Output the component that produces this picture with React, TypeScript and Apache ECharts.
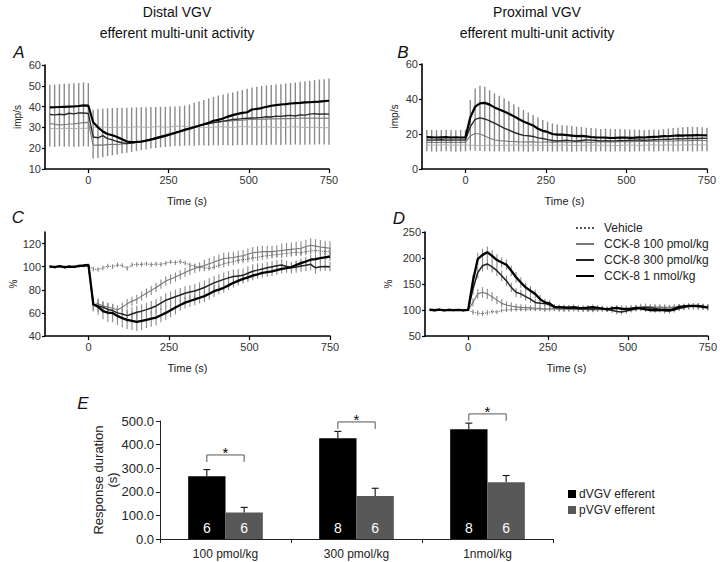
import React, { useEffect, useRef } from 'react';
import * as echarts from 'echarts';

const FONT = '"Liberation Sans", Arial, Helvetica, sans-serif';

// Time points (s)
const TIME = [-120, -105, -90, -75, -60, -45, -30, -15, 0,
  15, 30, 45, 60, 75, 90, 105, 120, 135, 150,
  165, 180, 195, 210, 225, 240, 255, 270, 285, 300,
  315, 330, 345, 360, 375, 390, 405, 420, 435, 450,
  465, 480, 495, 510, 525, 540, 555, 570, 585, 600,
  615, 630, 645, 660, 675, 690, 705, 720, 735, 750];

const SERIES_NAMES = ['Vehicle', 'CCK-8 100 pmol/kg', 'CCK-8 300 pmol/kg', 'CCK-8 1 nmol/kg'];

// ---------- Panel A (distal, imp/s) ----------
const A_VEH = [29.4, 29.5, 29.3, 29.6, 29.5, 29.4, 29.6, 29.5, 29.7,
  30.0, 30.1, 30.2, 30.0, 29.9, 30.1, 30.2, 30.0, 30.1, 30.3,
  30.2, 30.0, 30.1, 30.4, 30.3, 30.1, 30.2, 30.5, 30.6, 30.4,
  30.3, 30.2, 30.1, 30.0, 29.9, 30.1, 30.2, 30.3, 30.1, 30.0,
  30.2, 30.4, 30.3, 30.1, 30.0, 30.2, 30.3, 30.1, 30.0, 29.8,
  30.0, 30.2, 30.3, 30.1, 30.0, 29.9, 30.1, 30.0, 29.8, 29.9];
const A_100 = [31.8, 31.5, 31.2, 31.3, 31.6, 31.7, 32.0, 32.3, 32.4,
  21.4, 21.6, 21.5, 21.7, 21.9, 21.8, 22.0, 22.2, 22.4, 22.7,
  23.2, 23.8, 24.4, 25.0, 25.8, 26.5, 27.2, 27.7, 28.3, 29.0,
  29.6, 30.2, 30.8, 31.3, 31.8, 32.3, 32.6, 32.8, 33.0, 33.2,
  33.4, 33.5, 33.7, 33.8, 33.9, 34.0, 34.0, 34.1, 34.1, 34.2,
  34.3, 34.2, 34.4, 34.4, 34.5, 34.4, 34.5, 34.4, 34.5, 34.4];
const A_300 = [36.2, 36.0, 36.3, 36.1, 36.8, 36.5, 37.0, 36.9, 36.7,
  25.4, 25.0, 26.0, 24.6, 24.0, 23.2, 22.6, 22.2, 22.5, 23.0,
  23.3, 23.8, 24.3, 24.9, 25.5, 26.1, 26.8, 27.4, 28.1, 28.8,
  29.5, 30.2, 30.9, 31.4, 31.9, 32.3, 32.6, 33.0, 33.4, 33.8,
  34.0, 34.2, 34.4, 34.5, 34.6, 34.8, 35.1, 35.0, 35.4, 35.3,
  35.6, 35.8, 35.5, 36.0, 35.9, 36.4, 36.6, 36.3, 36.5, 36.4];
const A_1NMOL = [39.6, 39.7, 39.8, 39.9, 40.0, 40.1, 40.3, 40.6, 40.5,
  32.5, 30.1, 28.0, 26.8, 26.2, 25.4, 24.3, 23.2, 22.9, 23.0,
  23.2, 23.6, 24.1, 24.7, 25.3, 25.9, 26.6, 27.3, 28.0, 28.8,
  29.4, 30.1, 30.8, 31.5, 32.2, 33.2, 33.6, 34.3, 35.2, 35.9,
  36.5, 37.0, 37.3, 38.6, 38.9, 39.3, 39.9, 40.4, 40.7, 41.0,
  41.2, 41.5, 41.7, 41.8, 42.0, 42.1, 42.3, 42.4, 42.6, 42.8];
const A_ERR_HI = [50.5, 50.6, 50.8, 51.0, 51.1, 51.2, 51.4, 51.6, 51.3,
  38.5, 38.8, 39.0, 39.2, 39.3, 39.4, 39.5, 39.5, 39.6, 39.6,
  39.7, 39.7, 39.8, 39.8, 39.9, 39.9, 40.0, 40.1, 40.2, 40.5,
  41.0, 41.8, 42.5, 43.2, 43.9, 44.6, 45.3, 45.8, 46.3, 46.8,
  47.4, 48.0, 48.6, 49.2, 49.6, 49.9, 50.2, 50.4, 50.6, 50.8,
  51.1, 51.3, 51.6, 51.9, 52.2, 52.4, 52.7, 53.0, 53.2, 53.5];
const A_ERR_LO = [20.8, 20.6, 20.9, 20.7, 20.8, 20.6, 20.7, 20.9, 20.8,
  15.0, 15.3, 15.7, 16.2, 16.6, 17.0, 17.4, 17.8, 18.2, 18.6,
  19.0, 19.4, 19.8, 20.1, 20.4, 20.6, 20.8, 21.0, 21.1, 21.2,
  21.3, 21.2, 21.4, 21.3, 21.2, 21.4, 21.3, 21.5, 21.4, 21.3,
  21.5, 21.4, 21.6, 21.5, 21.4, 21.6, 21.5, 21.7, 21.6, 21.5,
  21.7, 21.6, 21.8, 21.7, 21.6, 21.8, 21.7, 21.9, 21.8, 21.7];

// ---------- Panel B (proximal, imp/s) ----------
const B_VEH = [13.6, 13.7, 13.6, 13.8, 13.7, 13.6, 13.7, 13.6, 13.7,
  13.6, 13.5, 13.4, 13.5, 13.6, 13.5, 13.4, 13.6, 13.5, 13.7,
  13.6, 13.5, 13.6, 13.7, 13.5, 13.4, 13.6, 13.5, 13.6, 13.7,
  13.6, 13.5, 13.4, 13.5, 13.6, 13.7, 13.6, 13.5, 13.6, 13.5,
  13.4, 13.5, 13.6, 13.7, 13.6, 13.5, 13.6, 13.7, 13.8, 13.6,
  13.7, 13.8, 13.7, 13.6, 13.8, 13.7, 13.9, 13.8, 13.7, 13.8];
const B_100 = [15.2, 15.2, 15.1, 15.3, 15.2, 15.2, 15.1, 15.2, 15.2,
  18.9, 20.3, 20.0, 18.8, 17.6, 16.6, 16.2, 16.0, 15.8, 15.7,
  15.5, 15.4, 15.6, 15.5, 15.3, 15.4, 15.6, 15.2, 15.4, 15.5,
  15.3, 15.4, 15.6, 15.5, 15.3, 15.2, 15.4, 15.5, 15.6, 15.4,
  15.5, 15.7, 15.6, 15.5, 15.8, 15.9, 15.7, 15.8, 16.0, 15.9,
  16.0, 16.1, 15.9, 16.2, 16.1, 16.3, 16.2, 16.4, 16.3, 16.2];
const B_300 = [16.6, 16.5, 16.6, 16.7, 16.5, 16.6, 16.5, 16.6, 16.6,
  24.2, 28.4, 29.2, 28.6, 27.5, 26.2, 24.8, 23.4, 22.2, 21.0,
  20.0, 19.2, 19.0, 18.6, 17.8, 17.4, 16.8, 16.3, 16.0, 16.2,
  16.4, 16.1, 16.0, 16.3, 16.6, 16.5, 16.3, 16.1, 16.2, 16.0,
  16.1, 16.3, 16.2, 16.4, 16.5, 16.6, 16.4, 16.5, 16.7, 16.8,
  16.9, 17.0, 17.1, 17.3, 17.2, 17.4, 17.5, 17.4, 17.6, 17.5];
const B_1NMOL = [18.2, 18.1, 18.0, 18.1, 18.2, 18.0, 18.1, 18.0, 18.1,
  29.5, 35.6, 37.5, 37.8, 36.8, 35.2, 34.0, 32.9, 31.6, 30.2,
  28.6, 27.2, 26.0, 24.9, 23.0, 21.8, 21.2, 20.0, 19.6, 19.6,
  19.4, 19.1, 18.8, 18.9, 18.6, 18.3, 18.1, 18.0, 17.9, 17.7,
  17.8, 17.9, 18.0, 17.8, 17.9, 18.1, 18.0, 18.2, 18.4, 18.5,
  18.8, 18.7, 19.0, 19.2, 19.1, 19.3, 19.2, 19.4, 19.3, 19.2];
const B_ERR_HI = [22.3, 22.4, 22.2, 22.3, 22.4, 22.3, 22.2, 22.3, 22.4,
  39.4, 46.0, 47.6, 47.0, 45.0, 43.2, 41.8, 40.4, 38.8, 37.0,
  35.4, 33.7, 32.3, 30.9, 29.5, 28.0, 27.0, 26.0, 25.5, 25.0,
  24.8, 24.6, 24.2, 24.0, 23.6, 23.4, 23.1, 22.9, 22.9, 22.8,
  22.8, 22.9, 22.7, 22.6, 22.5, 22.4, 22.3, 22.5, 22.6, 22.4,
  22.8, 23.1, 23.4, 23.6, 23.8, 24.0, 24.2, 24.0, 23.8, 23.6];
const B_ERR_LO = [10.1, 10.0, 9.9, 10.0, 10.1, 10.0, 9.9, 10.0, 10.1,
  10.6, 10.4, 10.3, 10.2, 10.1, 10.0, 10.1, 10.0, 9.9, 10.0,
  10.1, 10.0, 9.9, 10.0, 10.1, 10.2, 10.0, 9.9, 10.0, 10.1,
  10.0, 9.9, 10.0, 10.1, 10.0, 9.9, 10.0, 10.1, 10.0, 9.9,
  10.0, 10.1, 10.0, 9.9, 10.0, 10.1, 10.2, 10.1, 10.0, 10.1,
  10.2, 10.1, 10.0, 10.1, 10.2, 10.1, 10.0, 10.1, 10.2, 10.1];

// ---------- Panel C (distal, % of baseline) ----------
const C_VEH = [100.0, 99.5, 100.5, 99.7, 100.3, 99.8, 100.2, 100.5, 100.3,
  98.0, 97.5, 99.0, 100.5, 100.0, 101.5, 101.0, 98.5, 101.5, 102.0,
  102.0, 102.5, 101.8, 102.3, 102.0, 103.0, 104.0, 103.5, 104.5, 103.2,
  101.5, 100.5, 99.5, 99.0, 98.5, 99.5, 101.0, 102.5, 103.5, 104.5,
  105.5, 106.0, 106.5, 107.5, 108.0, 109.0, 109.5, 110.0, 110.5, 111.0,
  111.5, 112.0, 112.5, 112.0, 113.0, 113.5, 114.0, 113.5, 113.0, 113.5];
const C_100 = [100.1, 99.7, 100.3, 99.8, 100.2, 99.6, 100.3, 100.6, 100.9,
  67.0, 68.0, 66.0, 65.0, 64.0, 62.5, 65.0, 68.0, 70.0, 71.7,
  74.5, 77.0, 79.5, 82.0, 84.8, 87.5, 89.3, 91.0, 93.0, 95.0,
  96.8, 98.5, 99.8, 101.0, 102.5, 104.0, 105.5, 107.0, 107.5, 108.0,
  108.8, 109.5, 110.8, 112.0, 112.5, 113.0, 113.0, 113.0, 113.5, 114.0,
  114.5, 115.0, 115.5, 116.0, 117.3, 118.5, 117.8, 117.0, 116.5, 116.0];
const C_300 = [100.0, 99.8, 100.3, 99.6, 100.2, 99.9, 100.4, 100.8, 101.2,
  67.3, 66.0, 65.0, 63.0, 62.0, 60.0, 59.0, 57.6, 59.0, 60.5,
  61.5, 62.8, 64.2, 66.0, 68.5, 71.0, 72.5, 74.0, 75.5, 77.0,
  78.0, 79.0, 80.5, 82.0, 84.0, 86.0, 87.5, 89.0, 90.3, 91.5,
  92.0, 92.5, 94.3, 96.0, 97.0, 98.0, 99.0, 100.0, 100.8, 101.5,
  100.2, 99.0, 99.8, 100.5, 101.2, 102.0, 99.0, 100.0, 100.2, 100.0];
const C_1NMOL = [100.2, 99.6, 100.4, 99.5, 100.1, 99.8, 100.6, 101.0, 101.5,
  67.3, 65.4, 61.6, 60.2, 59.8, 57.4, 55.4, 54.0, 53.1, 52.3,
  53.1, 54.0, 55.0, 56.0, 58.0, 60.0, 62.3, 64.6, 66.8, 68.9,
  70.3, 71.7, 73.1, 74.5, 76.6, 78.8, 80.2, 81.7, 83.8, 86.0,
  87.7, 89.4, 90.8, 92.3, 93.4, 94.6, 95.3, 96.0, 97.0, 98.0,
  98.8, 99.7, 101.4, 103.1, 104.5, 106.0, 106.6, 107.4, 108.1, 108.8];
const C_ERR_VEH = [1, 1, 1, 1, 1, 1, 1, 1, 1,
  2, 2, 2, 2, 2, 2, 2, 2, 2, 2,
  2, 2, 2, 2, 2, 2, 2, 2, 2, 2,
  2, 2, 2, 2, 2, 2, 2, 3, 3, 3,
  3, 3, 3, 3, 3, 3, 3, 3, 3, 3,
  3, 3, 3, 3, 3, 3, 3, 3, 3, 3];
const C_ERR_100 = [1, 1, 1, 1, 1, 1, 1, 1, 1,
  4, 4, 4, 4, 4, 4, 4, 4, 4, 4,
  4, 4, 4, 4, 4, 4, 4, 4, 4, 4,
  4, 4, 4, 5, 5, 5, 5, 5, 5, 5,
  5, 5, 5, 5, 5, 5, 5, 5, 5, 6,
  6, 6, 6, 6, 6, 6, 6, 6, 6, 6];
const C_ERR_300 = [1, 1, 1, 1, 1, 1, 1, 1, 1,
  5, 5, 5, 5, 5, 5, 5, 6, 6, 6,
  6, 6, 6, 6, 6, 6, 6, 6, 6, 6,
  6, 6, 6, 6, 6, 6, 6, 6, 6, 6,
  6, 6, 6, 6, 6, 5, 5, 5, 5, 5,
  5, 5, 5, 5, 5, 5, 5, 4, 4, 4];
const C_ERR_1NMOL = [1, 1, 1, 1, 1, 1, 1, 1, 1,
  6, 7, 7, 8, 8, 8, 8, 8, 8, 8,
  8, 7, 7, 7, 6, 6, 6, 6, 5, 5,
  5, 5, 5, 5, 5, 5, 4, 4, 4, 4,
  4, 4, 4, 4, 4, 4, 4, 4, 4, 4,
  4, 4, 4, 4, 4, 4, 4, 4, 4, 4];

// ---------- Panel D (proximal, % of baseline) ----------
const D_VEH = [100.3, 99.6, 100.5, 99.4, 100.2, 99.7, 100.1, 99.5, 99.8,
  96, 94, 93, 95, 97, 96, 99, 100, 100.5, 101,
  101.5, 101, 102, 101.5, 102, 101, 101.5, 102, 101, 100.5,
  101, 101.5, 102, 101, 100, 99.5, 100, 101, 102, 102.5,
  103, 102.5, 102, 101.5, 102, 103, 104, 104.5, 105, 105.5,
  106, 105.5, 106, 107, 106.5, 106, 107, 106.5, 107, 106];
const D_100 = [100.0, 99.7, 100.4, 99.5, 100.2, 99.8, 100.1, 99.6, 100.0,
  114.6, 131, 134, 131, 125.6, 119, 112.7, 109.6, 107.7, 106,
  105, 104.5, 104, 103.5, 103, 102, 102.5, 103, 102, 101.5,
  102, 102.5, 101.5, 101, 102, 102.5, 103, 102, 101.5, 102,
  103, 104, 103.5, 104.5, 105, 106, 106.5, 106, 105.5, 105,
  104.5, 104, 105, 105.5, 106, 106.5, 107, 106.5, 106, 105.5];
const D_300 = [100.2, 99.8, 100.5, 99.3, 100.0, 99.5, 100.3, 99.6, 100.0,
  140, 172, 185, 188.5, 183, 175.6, 166, 156, 143.5, 134,
  131, 125.6, 121, 114.6, 113, 112.7, 109.6, 105, 104.5, 104,
  103.5, 103, 102.5, 103, 102, 101.5, 102.5, 103, 101, 99.5,
  97, 96, 98, 100, 102, 104, 105, 104.5, 103, 101,
  98.5, 98, 100, 103, 105, 107, 108, 108.5, 107, 106];
const D_1NMOL = [100.5, 99.5, 100.8, 99.2, 100.3, 99.6, 100.1, 99.4, 100.2,
  156, 198, 206, 211, 204, 196, 191.5, 187, 175.6, 163,
  153, 143.5, 137, 130.8, 121, 114.6, 112.7, 106, 105.5, 105,
  104.5, 105.5, 104, 103.5, 104.5, 105.5, 104, 102.5, 101, 103,
  104, 102, 101.5, 102, 104, 103, 101, 100, 99.5, 100,
  100.5, 99.5, 102, 106, 107, 108, 108, 107.5, 106, 104.5];
const D_ERR_VEH = [2, 2, 2, 2, 2, 2, 2, 2, 2,
  5, 5, 5, 5, 4, 4, 4, 4, 4, 4,
  4, 4, 4, 4, 4, 4, 4, 4, 4, 4,
  4, 4, 4, 4, 4, 4, 4, 4, 4, 4,
  4, 4, 4, 4, 4, 4, 4, 4, 4, 4,
  4, 4, 4, 4, 4, 4, 4, 4, 4, 4];
const D_ERR_100 = [2, 2, 2, 2, 2, 2, 2, 2, 2,
  8, 9, 10, 10, 9, 8, 8, 7, 7, 6,
  6, 6, 5, 5, 5, 5, 5, 5, 5, 5,
  5, 5, 5, 5, 5, 5, 5, 5, 5, 5,
  5, 5, 5, 5, 5, 6, 6, 6, 6, 6,
  6, 6, 6, 6, 6, 6, 6, 6, 6, 6];
const D_ERR_300 = [2, 2, 2, 2, 2, 2, 2, 2, 2,
  10, 11, 11, 11, 11, 10, 10, 10, 9, 9,
  8, 8, 7, 7, 6, 6, 5, 5, 5, 5,
  5, 5, 5, 5, 5, 5, 5, 5, 5, 5,
  5, 5, 5, 5, 5, 5, 5, 5, 5, 5,
  5, 5, 5, 5, 5, 5, 5, 5, 5, 5];
const D_ERR_1NMOL = [2, 2, 2, 2, 2, 2, 2, 2, 2,
  12, 12, 12, 11, 11, 11, 10, 10, 10, 10,
  10, 9, 9, 8, 8, 7, 6, 5, 5, 5,
  5, 5, 5, 5, 5, 5, 5, 5, 5, 5,
  5, 5, 5, 5, 5, 5, 5, 5, 5, 5,
  5, 5, 5, 5, 5, 5, 5, 5, 5, 5];

// ---------- Panel E (response duration) ----------
const E_CATS = ['100 pmol/kg', '300 pmol/kg', '1nmol/kg'];
const E_DVGV = [266, 427, 465];
const E_DVGV_ERR = [28, 29, 26];
const E_PVGV = [112, 182, 240];
const E_PVGV_ERR = [22, 33, 29];
const E_N_D = [6, 8, 8];
const E_N_P = [6, 6, 6];
const E_BRACKET = [356, 496, 530];

const TIME_TICKS = [0, 250, 500, 750];
const BAR_CAT_GAP = 0.43;

const pairs = (arr: number[]) => arr.map((v, i) => [TIME[i], v]);
const envelope = (lo: number[], hi: number[]) => TIME.map((t, i) => [t, lo[i], hi[i]]);
const spread = (m: number[], e: number[]) => TIME.map((t, i) => [t, m[i] - e[i], m[i] + e[i]]);

const errRender = (color: string, width: number) => (_p: any, api: any) => {
  const a = api.coord([api.value(0), api.value(1)]);
  const b = api.coord([api.value(0), api.value(2)]);
  return {
    type: 'line',
    shape: { x1: a[0], y1: a[1], x2: b[0], y2: b[1] },
    style: { stroke: color, lineWidth: width },
  };
};

const STYLES_AB = [
  { color: '#b0b0b0', width: 1, type: 'solid' },
  { color: '#7a7a7a', width: 1.1, type: 'solid' },
  { color: '#2a2a2a', width: 1.4, type: 'solid' },
  { color: '#000000', width: 2.2, type: 'solid' },
];
const STYLES_CD = [
  { color: '#555555', width: 1, type: 'dotted' },
  { color: '#777777', width: 1.1, type: 'solid' },
  { color: '#222222', width: 1.5, type: 'solid' },
  { color: '#000000', width: 2.3, type: 'solid' },
];

function lineSeries(idx: number, arrs: number[][], styles: any[], prefix: string) {
  return arrs.map((arr, k) => ({
    type: 'line',
    name: prefix + SERIES_NAMES[k],
    xAxisIndex: idx,
    yAxisIndex: idx,
    data: pairs(arr),
    symbol: 'none',
    showSymbol: false,
    z: 3 + k,
    color: styles[k].color,
    lineStyle: { color: styles[k].color, width: styles[k].width, type: styles[k].type },
  }));
}

function timeAxis(idx: number) {
  return {
    type: 'value',
    gridIndex: idx,
    min: -135,
    max: 750,
    name: 'Time (s)',
    nameLocation: 'middle',
    nameGap: 26,
    nameTextStyle: { fontSize: 11, color: '#222', fontFamily: FONT },
    axisLine: { show: true, onZero: false, lineStyle: { color: '#000', width: 1.6 } },
    axisTick: { show: true, customValues: TIME_TICKS, length: 4, lineStyle: { color: '#000', width: 1.2 } },
    axisLabel: { customValues: TIME_TICKS, fontSize: 11, color: '#333', margin: 5, fontFamily: FONT },
    splitLine: { show: false },
  };
}

function valAxis(idx: number, min: number, max: number, ticks: number[], name: string, nameGap: number) {
  return {
    type: 'value',
    gridIndex: idx,
    min,
    max,
    name,
    nameLocation: 'middle',
    nameGap,
    nameTextStyle: { fontSize: 10, color: '#222', fontFamily: FONT },
    axisLine: { show: true, onZero: false, lineStyle: { color: '#000', width: 1.6 } },
    axisTick: { show: true, customValues: ticks, length: 3, lineStyle: { color: '#000', width: 1.2 } },
    axisLabel: { customValues: ticks, fontSize: 11, color: '#333', margin: 4, fontFamily: FONT },
    splitLine: { show: false },
  };
}

function barErr(vals: number[], errs: number[], side: number) {
  return {
    type: 'custom',
    xAxisIndex: 4,
    yAxisIndex: 4,
    z: 6,
    data: vals.map((v, i) => [i, v, errs[i]]),
    renderItem: (_p: any, api: any) => {
      const i = api.value(0);
      const v = api.value(1);
      const e = api.value(2);
      const band = api.size([1, 0])[0];
      const off = (side * band * (1 - BAR_CAT_GAP)) / 4;
      const p0 = api.coord([i, v]);
      const p1 = api.coord([i, v + e]);
      const x = p0[0] + off;
      return {
        type: 'group',
        children: [
          { type: 'line', shape: { x1: x, y1: p0[1], x2: x, y2: p1[1] }, style: { stroke: '#111', lineWidth: 1.1 } },
          { type: 'line', shape: { x1: x - 3.5, y1: p1[1], x2: x + 3.5, y2: p1[1] }, style: { stroke: '#111', lineWidth: 1.1 } },
        ],
      };
    },
  };
}

const bracketSeries = {
  type: 'custom',
  xAxisIndex: 4,
  yAxisIndex: 4,
  z: 6,
  clip: false,
  data: E_BRACKET.map((v, i) => [i, v]),
  renderItem: (_p: any, api: any) => {
    const c = api.coord([api.value(0), api.value(1)]);
    const band = api.size([1, 0])[0];
    const off = (band * (1 - BAR_CAT_GAP)) / 4;
    const xl = c[0] - off;
    const xr = c[0] + off;
    const y = c[1];
    return {
      type: 'group',
      children: [
        {
          type: 'polyline',
          shape: { points: [[xl, y + 7], [xl, y], [xr, y], [xr, y + 7]] },
          style: { stroke: '#555', fill: 'none', lineWidth: 1 },
        },
        {
          type: 'text',
          style: { text: '*', x: c[0], y: y - 2, align: 'center', verticalAlign: 'middle', fontSize: 15, fontFamily: FONT, fill: '#000' },
        },
      ],
    };
  },
};

function txt(text: string, x: number, y: number, size: number, italic = false) {
  return {
    type: 'text',
    x,
    y,
    style: {
      text,
      fontSize: size,
      fontFamily: FONT,
      fontStyle: italic ? 'italic' : 'normal',
      fill: '#111',
      align: 'center',
      verticalAlign: 'middle',
    },
  };
}

export default function App() {
  const ref = useRef<HTMLDivElement>(null);
  useEffect(() => {
    if (!ref.current) return;
    const chart = echarts.init(ref.current, null, { renderer: 'svg' });

    const series: any[] = [];
    // error bars A, B
    series.push({ type: 'custom', xAxisIndex: 0, yAxisIndex: 0, z: 1, data: envelope(A_ERR_LO, A_ERR_HI), renderItem: errRender('#8a8a8a', 1.4) });
    series.push({ type: 'custom', xAxisIndex: 1, yAxisIndex: 1, z: 1, data: envelope(B_ERR_LO, B_ERR_HI), renderItem: errRender('#8a8a8a', 1.4) });
    // error bars C, D
    const cM = [C_VEH, C_100, C_300, C_1NMOL];
    const cE = [C_ERR_VEH, C_ERR_100, C_ERR_300, C_ERR_1NMOL];
    const dM = [D_VEH, D_100, D_300, D_1NMOL];
    const dE = [D_ERR_VEH, D_ERR_100, D_ERR_300, D_ERR_1NMOL];
    cM.forEach((m, k) => series.push({ type: 'custom', xAxisIndex: 2, yAxisIndex: 2, z: 1, data: spread(m, cE[k]), renderItem: errRender('#8a8a8a', 1.1) }));
    dM.forEach((m, k) => series.push({ type: 'custom', xAxisIndex: 3, yAxisIndex: 3, z: 1, data: spread(m, dE[k]), renderItem: errRender('#8a8a8a', 1.1) }));

    series.push(...lineSeries(3, dM, STYLES_CD, ''));
    series.push(...lineSeries(0, [A_VEH, A_100, A_300, A_1NMOL], STYLES_AB, 'A: '));
    series.push(...lineSeries(1, [B_VEH, B_100, B_300, B_1NMOL], STYLES_AB, 'B: '));
    series.push(...lineSeries(2, cM, STYLES_CD, 'C: '));

    series.push({
      type: 'bar',
      name: 'dVGV efferent',
      xAxisIndex: 4,
      yAxisIndex: 4,
      data: E_DVGV,
      barGap: '0%',
      barCategoryGap: '43%',
      itemStyle: { color: '#000' },
      label: { show: true, position: 'insideBottom', distance: 4, color: '#fff', fontSize: 14, fontFamily: FONT, formatter: (p: any) => String(E_N_D[p.dataIndex]) },
    });
    series.push({
      type: 'bar',
      name: 'pVGV efferent',
      xAxisIndex: 4,
      yAxisIndex: 4,
      data: E_PVGV,
      barGap: '0%',
      barCategoryGap: '43%',
      itemStyle: { color: '#585858' },
      label: { show: true, position: 'insideBottom', distance: 4, color: '#fff', fontSize: 14, fontFamily: FONT, formatter: (p: any) => String(E_N_P[p.dataIndex]) },
    });
    series.push(barErr(E_DVGV, E_DVGV_ERR, -1));
    series.push(barErr(E_PVGV, E_PVGV_ERR, 1));
    series.push(bracketSeries);

    const option: any = {
      animation: false,
      backgroundColor: '#ffffff',
      textStyle: { fontFamily: FONT },
      grid: [
        { left: 45, top: 65, width: 284, height: 104 },
        { left: 422, top: 64, width: 285, height: 105 },
        { left: 45, top: 232, width: 285, height: 104 },
        { left: 425, top: 232, width: 284, height: 104 },
        { left: 160, top: 421, width: 393, height: 118 },
      ],
      xAxis: [
        timeAxis(0),
        timeAxis(1),
        timeAxis(2),
        timeAxis(3),
        {
          type: 'category',
          gridIndex: 4,
          data: E_CATS,
          axisLine: { show: true, lineStyle: { color: '#222', width: 1 } },
          axisTick: { show: true, alignWithLabel: false, length: 4, lineStyle: { color: '#222' } },
          axisLabel: { fontSize: 12, color: '#222', margin: 9, fontFamily: FONT },
        },
      ],
      yAxis: [
        valAxis(0, 10, 60, [10, 20, 30, 40, 50, 60], 'imp/s', 23),
        valAxis(1, 0, 60, [0, 20, 40, 60], 'imp/s', 23),
        valAxis(2, 40, 130, [40, 60, 80, 100, 120], '%', 27),
        valAxis(3, 50, 250, [50, 100, 150, 200, 250], '%', 32),
        {
          type: 'value',
          gridIndex: 4,
          min: 0,
          max: 500,
          interval: 100,
          name: 'Response duration\n(s)',
          nameLocation: 'middle',
          nameGap: 41,
          nameMoveOverlap: false,
          nameTextStyle: { fontSize: 13, color: '#222', fontFamily: FONT, lineHeight: 14 },
          axisLine: { show: true, lineStyle: { color: '#222', width: 1 } },
          axisTick: { show: true, length: 4, lineStyle: { color: '#222' } },
          axisLabel: { fontSize: 13, color: '#222', margin: 6, fontFamily: FONT, formatter: (v: number) => v.toFixed(1) },
          splitLine: { show: false },
        },
      ],
      legend: [
        {
          orient: 'vertical',
          left: 575,
          top: 222,
          padding: 0,
          itemWidth: 18,
          itemHeight: 10,
          itemGap: 4,
          selectedMode: false,
          itemStyle: { color: 'rgba(0,0,0,0)', borderColor: 'rgba(0,0,0,0)', borderWidth: 0 },
          textStyle: { fontSize: 12, color: '#222', fontFamily: FONT, padding: [0, 0, 0, 5] },
          data: SERIES_NAMES,
        },
        {
          orient: 'vertical',
          left: 568,
          top: 488,
          padding: 0,
          itemWidth: 8,
          itemHeight: 8,
          itemGap: 4,
          icon: 'rect',
          selectedMode: false,
          textStyle: { fontSize: 12, color: '#222', fontFamily: FONT, padding: [0, 0, 0, -2] },
          data: ['dVGV efferent', 'pVGV efferent'],
        },
      ],
      graphic: [
        txt('Distal VGV', 177, 12, 14),
        txt('efferent multi-unit activity', 177, 33, 14),
        txt('Proximal VGV', 537, 12, 14),
        txt('efferent multi-unit activity', 537, 33, 14),
        txt('A', 19, 52, 17, true),
        txt('B', 403, 52, 17, true),
        txt('C', 18, 217, 17, true),
        txt('D', 399, 218, 17, true),
        txt('E', 83, 403, 17, true),
      ],
      series,
    };
    chart.setOption(option);
    return () => chart.dispose();
  }, []);
  return <div ref={ref} style={{ position: 'fixed', left: 0, top: 0, width: 720, height: 562, background: '#fff' }} />;
}
